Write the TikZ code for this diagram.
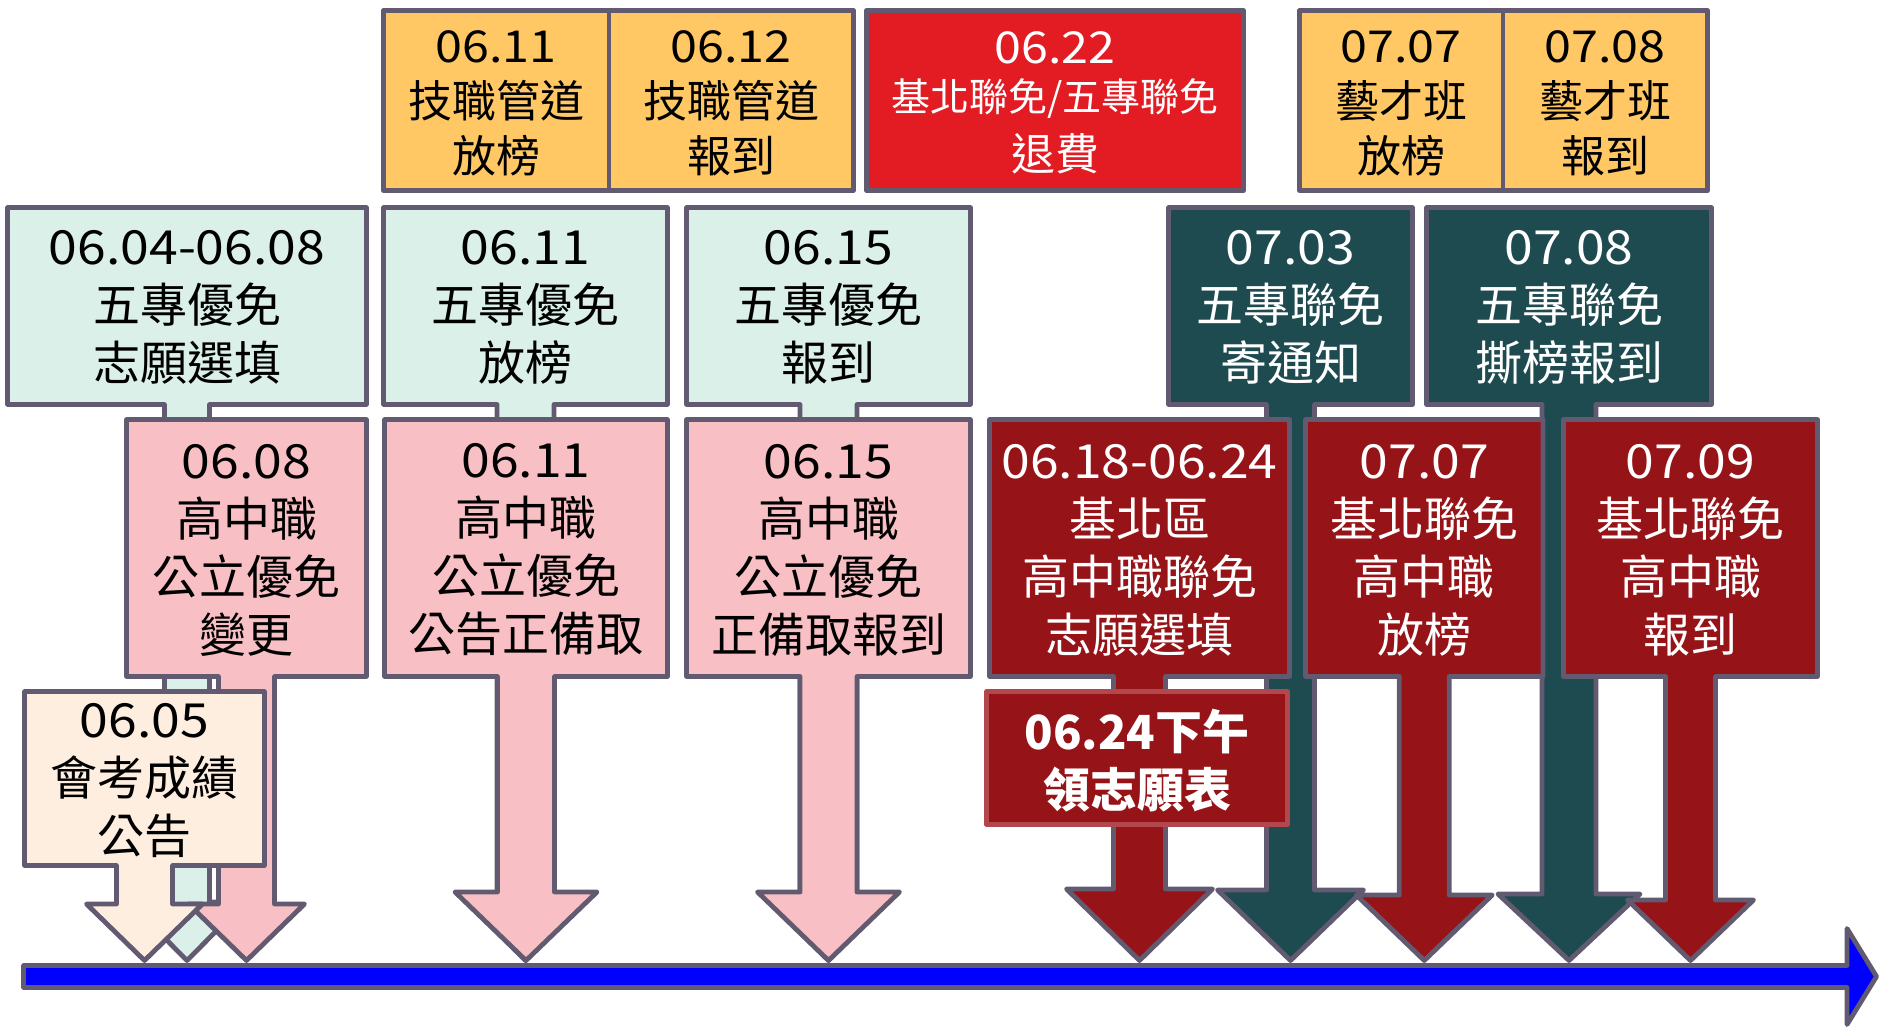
\documentclass[tikz,border=0pt]{standalone}
\usepackage{fontspec}
\setmainfont{Noto Sans CJK TC}
\newfontfamily\dgfont[FakeStretch=1.1]{Noto Sans CJK TC}
\newcommand\dgt[1]{{\dgfont #1}}
\definecolor{bord}{RGB}{98,90,112}
\definecolor{orng}{RGB}{255,200,101}
\definecolor{redb}{RGB}{227,27,35}
\definecolor{lteal}{RGB}{220,240,234}
\definecolor{pinkc}{RGB}{248,192,196}
\definecolor{beig}{RGB}{253,238,224}
\definecolor{dteal}{RGB}{30,75,80}
\definecolor{dred}{RGB}{150,19,24}
\definecolor{lred}{RGB}{178,72,78}
\definecolor{tblue}{RGB}{0,0,255}
% #1 style, #2 x1, #3 x2, #4 y1, #5 y2, #6 shaft half, #7 head half, #8 head base, #9 tip
\newcommand\mycallout[9]{%
  \pgfmathsetmacro\cx{(#2+#3)/2}%
  \draw[#1] (#2,#4) -- (#3,#4) -- (#3,#5) -- (\cx+#6,#5) -- (\cx+#6,#8)
    -- (\cx+#7,#8) -- (\cx,#9) -- (\cx-#7,#8) -- (\cx-#6,#8) -- (\cx-#6,#5)
    -- (#2,#5) -- cycle;}
\begin{document}
\begin{tikzpicture}[x=0.5pt,y=-0.5pt,line join=round,
  shp/.style={draw=bord,line width=2.4pt},
  txt/.style={align=center,inner sep=0pt,font=\fontsize{23.5}{29}\selectfont},
  toptxt/.style={align=center,inner sep=0pt,font=\fontsize{22}{27.5}\selectfont},
  wtxt/.style={txt,text=white}]
\useasboundingbox (0,0) rectangle (1883,1028);

% timeline
\draw[shp,fill=tblue] (23.5,965.5) -- (1847,965.5) -- (1847,928.5) -- (1876.5,976.5)
  -- (1847,1024.5) -- (1847,987.5) -- (23.5,987.5) -- cycle;

% row 1
\draw[shp,fill=orng] (383.5,10.5) rectangle (609,190.5);
\node[toptxt] (o1) at (496,103) {\dgt{06.11}\\技職管道\\放榜};
\draw[shp,fill=orng] (609,10.5) rectangle (853.5,190.5);
\node[toptxt] (o2) at (731,103) {\dgt{06.12}\\技職管道\\報到};
\draw[shp,fill=redb] (866.5,10.5) rectangle (1243.5,190.5);
\node[toptxt,text=white] (r1) at (1055,48) {\dgt{06.22}};
\node[inner sep=0pt,font=\fontsize{19.5}{24}\selectfont,text=white] (r2) at (1055,99) {基北聯免/五專聯免};
\node[toptxt,text=white] (r3) at (1055,154) {退費};
\draw[shp,fill=orng] (1299.5,10.5) rectangle (1503,190.5);
\node[toptxt] (o3) at (1401,103) {\dgt{07.07}\\藝才班\\放榜};
\draw[shp,fill=orng] (1503,10.5) rectangle (1707.5,190.5);
\node[toptxt] (o4) at (1605,103) {\dgt{07.08}\\藝才班\\報到};

% row 2
\mycallout{shp,fill=lteal}{7.5}{366.5}{207.5}{404.5}{22.5}{58}{902}{960.5}
\node[txt] (t1) at (187,307) {\dgt{06.04-06.08}\\五專優免\\志願選填};
\mycallout{shp,fill=lteal}{383.5}{667.5}{207.5}{404.5}{28.5}{66}{894}{960.5}
\node[txt] (t2) at (525.5,307) {\dgt{06.11}\\五專優免\\放榜};
\mycallout{shp,fill=lteal}{686.5}{970.5}{207.5}{404.5}{28.5}{66}{894}{960.5}
\node[txt] (t3) at (828.5,307) {\dgt{06.15}\\五專優免\\報到};
\mycallout{shp,fill=dteal}{1168.5}{1412.5}{207.5}{404.5}{24}{73}{890}{960.5}
\node[wtxt] (d1) at (1290.5,307) {\dgt{07.03}\\五專聯免\\寄通知};
\mycallout{shp,fill=dteal}{1426.5}{1711.5}{207.5}{404.5}{27}{71}{894}{960.5}
\node[wtxt] (d2) at (1569,307) {\dgt{07.08}\\五專聯免\\撕榜報到};

% row 3
\mycallout{shp,fill=pinkc}{126.5}{366.5}{419.5}{676.5}{28}{58}{904}{960.5}
\node[txt] (p1) at (246.5,550) {\dgt{06.08}\\高中職\\公立優免\\變更};
\mycallout{shp,fill=pinkc}{384.5}{667.5}{419.5}{676.5}{28.5}{71}{892}{960.5}
\node[txt] (p2) at (526,550) {\dgt{06.11}\\高中職\\公立優免\\公告正備取};
\mycallout{shp,fill=pinkc}{686.5}{970.5}{419.5}{676.5}{28.5}{71}{892}{960.5}
\node[txt] (p3) at (828.5,550) {\dgt{06.15}\\高中職\\公立優免\\正備取報到};
\mycallout{shp,fill=dred}{989.5}{1289.5}{419.5}{676.5}{26}{73}{889}{960.5}
\node[wtxt] (e1) at (1139.5,550) {\dgt{06.18-06.24}\\基北區\\高中職聯免\\志願選填};
\mycallout{shp,fill=dred}{1305.5}{1543}{419.5}{676.5}{25}{68}{895}{960.5}
\node[wtxt] (e2) at (1424.25,550) {\dgt{07.07}\\基北聯免\\高中職\\放榜};
\mycallout{shp,fill=dred}{1563.5}{1817.5}{419.5}{676.5}{25}{63}{900}{960.5}
\node[wtxt] (e3) at (1690.5,550) {\dgt{07.09}\\基北聯免\\高中職\\報到};

% beige
\mycallout{shp,fill=beig}{24.5}{264.5}{691.5}{865.5}{28}{58}{904}{960.5}
\node[txt] (b1) at (144.5,781) {\dgt{06.05}\\會考成績\\公告};

% 06.24 box
\draw[draw=lred,line width=2.4pt,fill=dred] (986.5,691.5) rectangle (1287.5,824.5);
\node[wtxt,font=\fontsize{23.5}{29}\selectfont\bfseries] (f1) at (1137,761) {06.24下午\\領志願表};
\end{tikzpicture}
\end{document}
